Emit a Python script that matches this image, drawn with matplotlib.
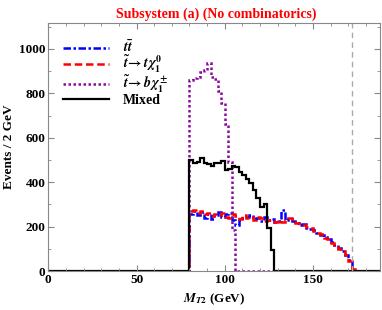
import numpy as np
import matplotlib
matplotlib.use("Agg")
import matplotlib.pyplot as plt

plt.rcParams['font.family'] = ['Liberation Serif', 'DejaVu Serif']
plt.rcParams['font.weight'] = 'bold'
plt.rcParams['axes.labelweight'] = 'bold'
plt.rcParams['mathtext.fontset'] = 'stix'

# bin edges (2 GeV bins)
edges = np.arange(0, 190, 2)

# histogram contents, listed from the first non-empty bin (80 GeV)
start_bin = 80
tt_vals = [255, 270, 250, 265, 240, 258, 232, 250, 265, 245, 255, 260, 228, 205,
           228, 240, 245, 250, 232, 240, 225, 245, 228, 235, 220, 225, 275, 228,
           232, 225, 218, 205, 210, 195, 190, 185, 172, 160, 155, 142, 130, 115,
           105, 88, 70, 50, 0]
chi0_vals = [268, 275, 262, 270, 255, 262, 248, 258, 250, 262, 245, 240, 255, 248,
             235, 250, 240, 245, 230, 245, 238, 225, 230, 225, 222, 230, 222, 228,
             240, 222, 215, 208, 205, 198, 192, 182, 170, 165, 150, 145, 128, 118,
             100, 90, 72, 45, 8]
chipm_vals = [860, 868, 875, 898, 905, 935, 875, 865, 811, 757, 660, 492, 185]
mixed_vals = [500, 485, 490, 508, 488, 482, 473, 485, 488, 497, 455, 458, 473, 467,
              447, 432, 413, 395, 365, 327, 290, 302, 194, 95]

labels = [r'$t\bar{t}$', r'$\tilde{t}\!\to t\,\chi_1^0$',
          r'$\tilde{t}\!\to b\,\chi_1^\pm$', 'Mixed']
top_mass = 172


def full(vals):
    h = np.zeros(len(edges) - 1)
    i0 = start_bin // 2
    h[i0:i0 + len(vals)] = vals
    return h


fig = plt.figure(figsize=(3.82, 3.10), dpi=100)
ax = fig.add_axes([0.1264, 0.1258, 0.8684, 0.8016])

ax.stairs(full(tt_vals), edges, color='blue', lw=1.8, ls=(0, (3, 1, 1, 1)), label=labels[0])
ax.stairs(full(chi0_vals), edges, color='red', lw=1.8, ls=(0, (3, 1.5)), label=labels[1])
ax.stairs(full(chipm_vals), edges, color='#8b0a9e', lw=1.8, ls=(0, (1, 1)), label=labels[2])
ax.stairs(full(mixed_vals), edges, color='black', lw=1.6, label=labels[3])
ax.axvline(top_mass, color='#aaaaaa', ls=(0, (4, 3)), lw=1)

ax.set_xlim(0, 188)
ax.set_ylim(0, 1119)
ax.set_xticks([0, 50, 100, 150])
ax.set_xticks(np.arange(0, 190, 10), minor=True)
ax.set_yticks(np.arange(0, 1001, 200))
ax.set_yticks(np.arange(0, 1101, 100), minor=True)
ax.tick_params(which='both', direction='in', top=True, right=True, color='#888888',
               labelsize=9.5, pad=2)
ax.tick_params(which='major', length=4)
ax.tick_params(which='minor', length=2)
for s in ax.spines.values():
    s.set_color('#888888')
    s.set_linewidth(0.8)

ax.set_xlabel(r'$M_{T2}$ (GeV)', fontsize=9.5, fontweight='bold', labelpad=4)
ax.set_ylabel('Events / 2 GeV', fontsize=9.5, fontweight='bold', labelpad=3)
fig.suptitle('Subsystem (a) (No combinatorics)', color='red', fontsize=10,
             fontweight='bold', x=0.565, y=0.975)

ax.legend(loc='upper left', bbox_to_anchor=(0.015, 0.97), frameon=False,
          prop={'size': 10, 'weight': 'bold'},
          handlelength=3.3, handletextpad=1.0, labelspacing=-0.08, borderaxespad=0.3)

fig.savefig('out.png', dpi=100)
